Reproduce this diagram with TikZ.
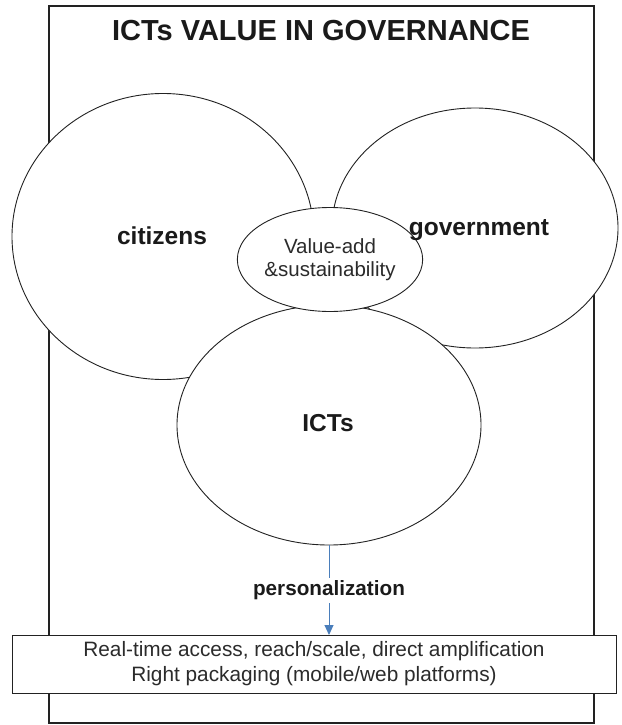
\documentclass[tikz,border=0pt]{standalone}
\usepackage{fontspec}
\setmainfont{Liberation Sans}
\usetikzlibrary{shapes.geometric,arrows.meta}
\definecolor{linegray}{HTML}{222222}
\definecolor{arrowblue}{HTML}{4A7EBB}
\definecolor{textdark}{HTML}{1A1A1A}
\definecolor{textreg}{HTML}{2B2B2B}
\tikzset{
  blob/.style={ellipse,draw=linegray,line width=0.9pt,fill=white,inner sep=0pt,text=textreg},
  bigtext/.style={font=\fontsize{24.5}{28}\selectfont\bfseries,text=textdark},
}
\begin{document}
\begin{tikzpicture}[x=1pt,y=-1pt]
\useasboundingbox (0,0) rectangle (621,725);
% outer frame
\draw[linegray,line width=1.1pt] (49,6) rectangle (594,723);
% title
\node[font=\fontsize{29}{33}\selectfont\bfseries,text=textdark] (title) at (321,31) {ICTs VALUE IN GOVERNANCE};
% circles
\node[blob,minimum width=302pt,minimum height=286pt] (cit) at (163,236.5) {};
\node[blob,minimum width=286pt,minimum height=240pt] (gov) at (475,228) {};
\node[blob,minimum width=304pt,minimum height=240pt] (ict) at (329,425) {};
\node[blob,minimum width=150pt,minimum height=104pt,align=center,
      font=\fontsize{20.5}{23}\selectfont] (val) at (330,259.5) {Value-add\\\&sustainability};
% labels
\node[bigtext] (citl) at (162,236) {citizens};
\node[bigtext] (govl) at (479,230) {government};
\node[bigtext] (ictl) at (328,423) {ICTs};
% bottom box
\node[draw=linegray,line width=0.9pt,fill=white,minimum width=604pt,minimum height=58pt,
      align=center,font=\fontsize{20.8}{25}\selectfont,text=textreg] (box) at (314,664)
      {Real-time access, reach/scale, direct amplification\\Right packaging (mobile/web platforms)};
% arrow
\coordinate (bt) at (329,635);
\draw[arrowblue,line width=1pt,-{Triangle[length=10pt,width=9pt]}] (ict.south) -- (bt)
  node[midway,fill=white,inner sep=3pt,font=\fontsize{20.7}{24}\selectfont\bfseries,text=textdark] (pers) {personalization};
\end{tikzpicture}
\end{document}
